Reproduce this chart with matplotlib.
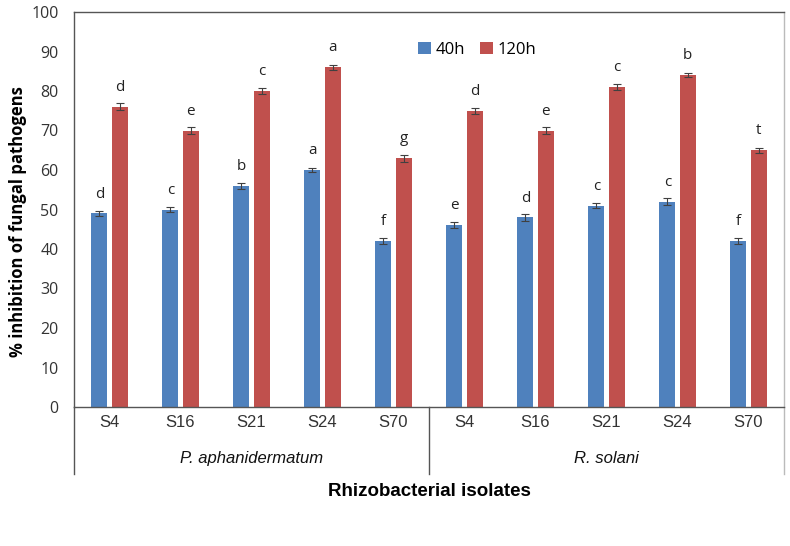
import matplotlib
matplotlib.use("Agg")
import matplotlib.pyplot as plt
import numpy as np
from matplotlib import font_manager as fm

names = {f.name for f in fm.fontManager.ttflist}
narrow = "Liberation Sans Narrow" if "Liberation Sans Narrow" in names else "Liberation Sans"

isolates = ["S4", "S16", "S21", "S24", "S70"]
pathogens = ["P. aphanidermatum", "R. solani"]
categories = isolates + isolates
series_names = ["40h", "120h"]
h40 = [49, 50, 56, 60, 42, 46, 48, 51, 52, 42]
h120 = [76, 70, 80, 86, 63, 75, 70, 81, 84, 65]
err40 = [0.6, 0.7, 0.8, 0.6, 0.7, 0.8, 0.9, 0.7, 0.9, 0.8]
err120 = [0.9, 0.9, 0.7, 0.7, 0.9, 0.8, 1.0, 0.8, 0.5, 0.6]
let40 = ["d", "c", "b", "a", "f", "e", "d", "c", "c", "f"]
let120 = ["d", "e", "c", "a", "g", "d", "e", "c", "b", "t"]

blue = "#4F81BD"
red = "#C0504D"

fig = plt.figure(figsize=(7.9, 5.46), dpi=100)
ax = fig.add_axes([74/790, 1-407/546, (784-74)/790, (407-12)/546])

x = np.arange(len(categories))
w = 0.225
off = 0.142
ax.bar(x - off, h40, w, color=blue, label=series_names[0], zorder=2)
ax.bar(x + off, h120, w, color=red, label=series_names[1], zorder=2)
ax.errorbar(x - off, h40, yerr=err40, fmt="none", ecolor="#404040", elinewidth=0.8, capsize=3, capthick=0.8, zorder=3)
ax.errorbar(x + off, h120, yerr=err120, fmt="none", ecolor="#404040", elinewidth=0.8, capsize=3, capthick=0.8, zorder=3)

for xi, v, l in zip(x - off, h40, let40):
    ax.text(xi, v + 3.0, l, ha="center", va="bottom", fontsize=11, family="Open Sans", color="#222222")
for xi, v, l in zip(x + off, h120, let120):
    ax.text(xi, v + 3.0, l, ha="center", va="bottom", fontsize=11, family="Open Sans", color="#222222")

ax.set_xlim(-0.5, len(categories) - 0.5)
ax.set_ylim(0, 100)
ax.set_yticks(np.arange(0, 101, 10))
ax.tick_params(axis="y", length=0, labelsize=11.5, pad=11, labelcolor="#333333")
for t in ax.get_yticklabels():
    t.set_family("Open Sans")
ax.set_xticks(x)
ax.set_xticklabels(categories, family=narrow, fontsize=12, color="#333333")
ax.tick_params(axis="x", length=0, pad=6)

ax.spines["top"].set_color("#555555")
ax.spines["right"].set_color("#BBBBBB")
ax.spines["left"].set_color("#555555")
ax.spines["bottom"].set_color("#555555")
for s in ax.spines.values():
    s.set_linewidth(1.0)

# group separators below axis
for xp in [-0.5, 4.5, 9.5]:
    col = "#BBBBBB" if xp == 9.5 else "#555555"
    ax.plot([xp, xp], [0, -17], color=col, lw=1.0, clip_on=False, transform=ax.transData)
for gi, g in enumerate(pathogens):
    ax.text(gi * 5 + 2, -13, g, ha="center", va="center", style="italic", family=narrow, fontsize=12, color="#111111")

ax.text(4.5, -21.5, "Rhizobacterial isolates", ha="center", va="center", family=narrow,
        fontweight="bold", fontsize=13.5)
fig.text(18/790, 1-222/546, "% inhibition of fungal pathogens", rotation=90, ha="center", va="center",
         family="Open Sans", fontweight="bold", fontsize=12)

leg = ax.legend(loc="upper left", bbox_to_anchor=(329/710, 0.962), ncol=2, frameon=False,
                handlelength=0.75, handleheight=0.75, handletextpad=0.3, columnspacing=0.9,
                prop={"family": "Open Sans", "size": 12})

fig.savefig("out.png", dpi=100)
